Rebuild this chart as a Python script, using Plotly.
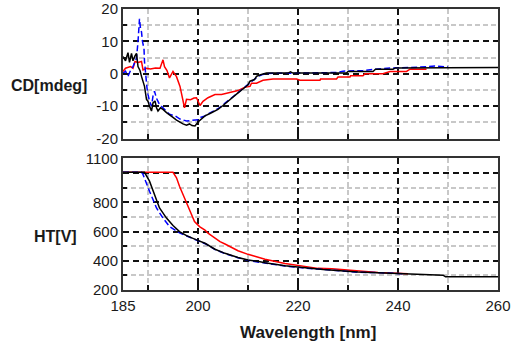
import plotly.graph_objects as go

# ---- CD [mdeg] data ----
cd_black_wl = [185.0, 185.5, 186.0, 186.3, 186.7, 187.0, 187.4, 187.7, 188.0, 188.4, 188.7, 189.0, 189.3,
               189.7, 190.0, 190.3, 190.7, 191.0, 191.4, 191.7, 192.0, 192.5, 193.0, 193.7, 194.3, 195.0,
               195.7, 196.4, 197.0, 197.7, 198.3, 198.8, 199.4, 200.0, 200.6, 201.4, 202.5, 204.0, 205.0,
               206.0, 207.0, 208.0, 209.0, 210.0, 210.4, 211.3, 211.7, 212.5, 213.7, 218.0, 218.5, 219.0,
               229.7, 230.0, 235.0, 235.5, 239.0, 239.5, 260.0]
cd_black = [5.3, 4.0, 6.5, 3.5, 6.3, 4.0, 5.5, 6.3, 2.2, 1.0, -0.8, -2.5, -3.9,
            -7.9, -8.5, -10.0, -11.5, -9.0, -8.4, -10.5, -11.5, -10.5, -11.0, -12.0, -12.8, -13.5,
            -14.3, -15.0, -15.5, -15.9, -15.5, -16.0, -16.1, -14.9, -14.2, -13.0, -12.2, -11.0, -9.8,
            -8.4, -7.2, -5.9, -4.7, -3.4, -2.3, -1.8, -0.8, -0.3, 0.2, 0.2, 0.6, 0.2,
            0.2, 0.7, 0.7, 1.4, 1.4, 1.8, 1.9]

cd_blue_wl = [185.0, 185.5, 186.0, 186.5, 187.0, 187.4, 187.7, 188.0, 188.3, 188.5, 188.7, 188.9, 189.2,
              189.3, 189.5, 189.8, 190.0, 190.3, 190.7, 191.0, 191.3, 191.7, 192.3, 193.0, 193.7, 194.3,
              195.4, 196.4, 197.7, 199.0, 200.0, 200.5, 201.4, 202.5, 204.0, 205.0, 206.0, 207.0, 208.0,
              209.0, 210.0, 211.0, 212.0, 213.0, 214.0, 220.0, 228.0, 229.0, 233.0, 236.0, 239.0, 244.0,
              247.4, 250.0]
cd_blue = [0.2, 0.8, -0.8, 1.0, 2.2, 3.5, 4.8, 9.9, 17.0, 14.0, 12.9, 9.9, 7.8,
           3.8, -0.3, -4.4, -6.4, -8.4, -10.0, -6.9, -5.4, -7.6, -9.5, -10.5, -11.5, -12.5,
           -13.0, -14.0, -14.6, -14.5, -14.2, -13.5, -13.0, -12.0, -10.8, -9.6, -8.3, -7.1, -5.8,
           -4.6, -3.2, -2.0, -0.8, -0.2, 0.1, 0.2, 0.4, 0.8, 1.0, 1.5, 1.8, 2.0,
           2.4, 2.1]

cd_red_wl = [185.0, 185.5, 186.5, 187.0, 187.4, 188.0, 188.7, 189.0, 189.7, 190.5, 191.5, 192.4, 193.0,
             193.3, 193.8, 194.3, 195.0, 195.7, 196.4, 197.0, 197.3, 197.7, 198.5, 199.2, 199.7, 200.4,
             201.0, 202.0, 203.4, 204.7, 206.0, 208.0, 209.3, 210.4, 210.7, 211.7, 213.0, 215.0, 219.7,
             220.4, 224.4, 224.5, 227.7, 228.0, 230.4, 230.5, 233.0, 233.4, 237.0, 238.4, 241.7, 242.4,
             245.7]
cd_red = [0.7, 1.7, 2.2, 1.7, 3.8, 3.5, 3.8, 1.2, 1.7, 1.5, 1.8, 1.7, 4.3,
          2.2, 1.0, -1.3, 0.7, -0.9, -3.9, -7.9, -10.5, -7.9, -8.0, -7.5, -7.4, -9.8,
          -8.5, -7.4, -6.4, -6.4, -5.9, -5.2, -4.2, -3.9, -2.9, -2.9, -2.0, -1.6, -1.6,
          -2.0, -2.0, -1.6, -1.6, -1.0, -1.0, -0.6, -0.6, 0.0, 0.0, 0.7, 0.7, 1.4,
          1.4]

# ---- HT [V] data ----
ht_black_wl = [185.0, 189.3, 190.3, 191.0, 191.7, 192.3, 193.7, 195.0, 196.3, 197.7, 199.7, 201.4, 203.4,
               205.4, 208.0, 210.0, 212.4, 213.4, 217.4, 221.4, 225.0, 232.0, 240.0, 249.0, 249.5, 260.0]
ht_black = [1005, 1005, 945, 876, 819, 761, 692, 641, 600, 572, 543, 520, 479,
            451, 423, 405, 393, 386, 366, 352, 341, 324, 313, 301, 290, 290]

ht_blue_wl = [185.0, 188.7, 189.0, 189.7, 190.3, 191.0, 191.7, 193.0, 194.3, 196.4, 198.4, 200.4, 201.7,
              203.4, 205.4, 208.0, 210.0, 213.4, 217.4, 221.4, 225.0, 232.0, 236.7, 241.4]
ht_blue = [1005, 1005, 991, 922, 876, 819, 761, 692, 634, 589, 559, 531, 513,
           477, 449, 421, 403, 384, 364, 350, 339, 322, 318, 310]

ht_red_wl = [185.0, 195.0, 195.7, 196.3, 197.3, 198.3, 199.3, 200.3, 201.4, 202.0, 203.4, 204.4, 205.4,
             207.0, 208.0, 210.0, 212.4, 213.4, 217.4, 221.4, 224.0, 226.8, 232.0, 236.0, 242.0]
ht_red = [1005, 1005, 968, 910, 830, 750, 669, 634, 610, 589, 554, 531, 515,
          485, 469, 444, 423, 410, 382, 363, 348, 346, 331, 320, 312]

# ---- axis ticks ----
x_tick_vals = [185, 200, 220, 240, 260]
x_tick_text = ["185", "200", "220", "240", "260"]
x_minor_vals = [190, 210, 230, 250]
cd_tick_vals = [-20, -10, 0, 10, 20]
cd_tick_text = ["-20", "-10", "0", "10", "20"]
cd_minor_vals = [-15, -5, 5, 15]
ht_tick_vals = [200, 400, 600, 800, 1000, 1100]
ht_tick_text = ["200", "400", "600", "800", "", "1100"]
ht_minor_vals = [300, 500, 700, 900]

FONT = "Liberation Sans, Arial, sans-serif"
MAJOR_GRID = dict(gridcolor="#111111", gridwidth=1.5, griddash="6px,4px", showgrid=True)
MINOR_GRID = dict(gridcolor="#c8c8c8", gridwidth=1.5, griddash="5px,3px", showgrid=True)
BORDER = dict(showline=True, linecolor="#333333", linewidth=2, mirror=True, zeroline=False,
              automargin=False)

fig = go.Figure()
# CD traces
fig.add_trace(go.Scatter(x=cd_red_wl, y=cd_red, mode="lines", line=dict(color="#ff0000", width=1.5),
                         xaxis="x", yaxis="y", showlegend=False))
fig.add_trace(go.Scatter(x=cd_blue_wl, y=cd_blue, mode="lines",
                         line=dict(color="#0000ff", width=1.5, dash="6px,3px"),
                         xaxis="x", yaxis="y", showlegend=False))
fig.add_trace(go.Scatter(x=cd_black_wl, y=cd_black, mode="lines", line=dict(color="#000000", width=1.5),
                         xaxis="x", yaxis="y", showlegend=False))
# HT traces
fig.add_trace(go.Scatter(x=ht_red_wl, y=ht_red, mode="lines", line=dict(color="#ff0000", width=1.5),
                         xaxis="x2", yaxis="y2", showlegend=False))
fig.add_trace(go.Scatter(x=ht_blue_wl, y=ht_blue, mode="lines",
                         line=dict(color="#0000ff", width=1.5, dash="6px,3px"),
                         xaxis="x2", yaxis="y2", showlegend=False))
fig.add_trace(go.Scatter(x=ht_black_wl, y=ht_black, mode="lines", line=dict(color="#000000", width=1.5),
                         xaxis="x2", yaxis="y2", showlegend=False))

xcommon = dict(range=[185, 260], tickvals=x_tick_vals, ticktext=x_tick_text, ticks="inside",
               ticklen=12, tickwidth=1.5, tickcolor="#111111", **MAJOR_GRID, **BORDER,
               minor=dict(tickvals=x_minor_vals, ticks="inside", ticklen=5, tickwidth=1.5,
                          tickcolor="#111111", **MINOR_GRID))

fig.update_layout(
    width=511, height=341,
    margin=dict(l=123, r=13, t=9, b=51, autoexpand=False),
    paper_bgcolor="white", plot_bgcolor="white",
    font=dict(family=FONT, size=15, color="#1a1a1a"),
    xaxis=dict(domain=[0, 1], anchor="y", showticklabels=False, **xcommon),
    yaxis=dict(domain=[0.5391, 1], anchor="x", range=[-20, 20], tickvals=cd_tick_vals,
               ticktext=cd_tick_text, ticks="inside", ticklen=4, tickwidth=1.5, tickcolor="#111111",
               **MAJOR_GRID, **BORDER,
               minor=dict(tickvals=cd_minor_vals, ticks="inside", ticklen=4, tickwidth=1.5,
                          tickcolor="#111111", **MINOR_GRID)),
    xaxis2=dict(domain=[0, 1], anchor="y2", ticklabelstandoff=1, **xcommon),
    yaxis2=dict(domain=[0, 0.468], anchor="x2", range=[200, 1100], tickvals=ht_tick_vals,
                ticktext=ht_tick_text, ticks="inside", ticklen=4, tickwidth=1.5, tickcolor="#111111",
                **MAJOR_GRID, **BORDER,
                minor=dict(tickvals=ht_minor_vals, ticks="inside", ticklen=4, tickwidth=1.5,
                           tickcolor="#111111", **MINOR_GRID)),
    annotations=[
        dict(text="<b>CD[mdeg]</b>", xref="paper", yref="paper", x=-0.197, y=0.726,
             xanchor="center", yanchor="middle",
             showarrow=False, font=dict(size=16, family=FONT, color="#1a1a1a")),
        dict(text="<b>HT[V]</b>", xref="paper", yref="paper", x=-0.181, y=0.192,
             xanchor="center", yanchor="middle",
             showarrow=False, font=dict(size=16, family=FONT, color="#1a1a1a")),
        dict(text="<b>Wavelength [nm]</b>", xref="paper", yref="paper", x=0.493, y=-0.152,
             xanchor="center", yanchor="middle",
             showarrow=False, font=dict(size=17, family=FONT, color="#1a1a1a")),
    ],
)

fig.write_html("out.html")
